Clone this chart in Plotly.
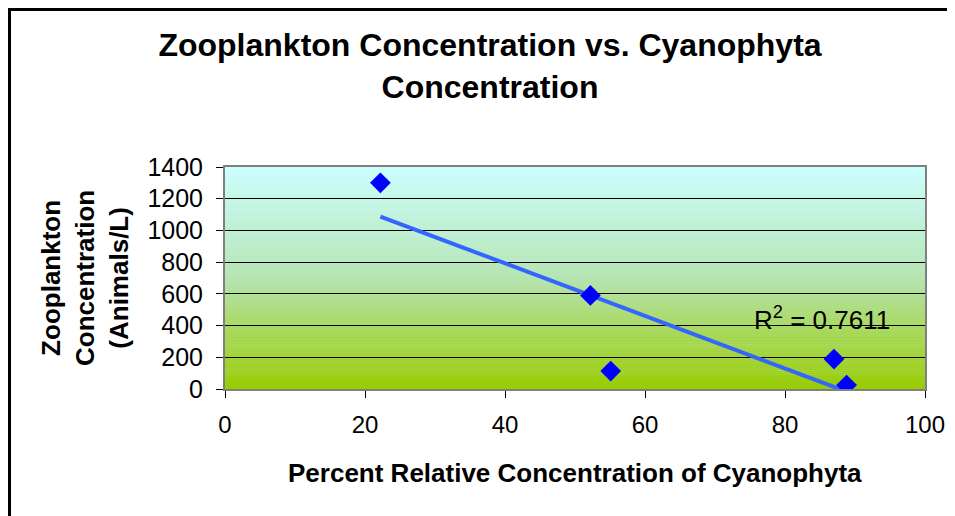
import numpy as np
import plotly.graph_objects as go

# Data
cyanophyta_pct = [22.2, 52.2, 55.1, 87.0, 88.8]
zooplankton = [1300, 590, 113, 189, 25]
x_ticks = [0, 20, 40, 60, 80, 100]
y_ticks = [0, 200, 400, 600, 800, 1000, 1200, 1400]
r2_label = "R<sup>2</sup> = 0.7611"

title_text = "Zooplankton Concentration vs. Cyanophyta<br>Concentration"
x_title = "Percent Relative Concentration of Cyanophyta"
y_title = "Zooplankton<br>Concentration<br>(Animals/L)"

# Linear trendline fitted to the data
slope, intercept = np.polyfit(cyanophyta_pct, zooplankton, 1)
tx = [min(cyanophyta_pct), max(cyanophyta_pct)]
ty = [slope * v + intercept for v in tx]

FONT = "Liberation Sans, Arial, sans-serif"

fig = go.Figure()
fig.add_trace(go.Scatter(x=tx, y=ty, mode="lines",
                         line=dict(color="#3366FF", width=4),
                         hoverinfo="skip", showlegend=False))
fig.add_trace(go.Scatter(x=cyanophyta_pct, y=zooplankton, mode="markers",
                         marker=dict(symbol="diamond", size=16, color="#0000FF",
                                     line=dict(width=0)),
                         showlegend=False))

# gradient background as thin strips
def lerp(c1, c2, t):
    return tuple(c1[i] + (c2[i] - c1[i]) * t for i in range(3))

stops = [(0.0, (153, 204, 0)), (0.5, (182, 228, 178)), (1.0, (204, 255, 255))]
def color_at(t):
    for (t0, c0), (t1, c1) in zip(stops[:-1], stops[1:]):
        if t0 <= t <= t1:
            c = lerp(c0, c1, (t - t0) / (t1 - t0))
            return "rgb(%d,%d,%d)" % tuple(round(v) for v in c)
    return "rgb(204,255,255)"

shapes = []
N = 110
for i in range(N):
    shapes.append(dict(type="rect", xref="x domain", yref="y domain",
                       x0=0, x1=1, y0=i / N, y1=(i + 1) / N + 0.002,
                       fillcolor=color_at((i + 0.5) / N), line=dict(width=0),
                       layer="below"))

# page offset (body margin) -> work in page pixel coordinates
OFF = 8
FW, FH = 955, 516
L, T = 225 - OFF, 167 - OFF
W, H = 700, 222
def px(xp):
    return (xp - OFF - L) / W
def py(yp):
    return (T + H - (yp - OFF)) / H

# outer chart border (left and top visible)
shapes.append(dict(type="line", xref="paper", yref="paper",
                   x0=px(9.5), x1=px(9.5), y0=py(8), y1=py(540),
                   line=dict(color="black", width=3)))
shapes.append(dict(type="line", xref="paper", yref="paper",
                   x0=px(8), x1=px(980), y0=py(9.5), y1=py(9.5),
                   line=dict(color="black", width=3)))

annotations = [
    dict(text="<b>" + y_title + "</b>", xref="paper", yref="paper", x=px(85), y=0.5,
         textangle=-90, showarrow=False, xanchor="center", yanchor="middle",
         font=dict(family=FONT, size=26, color="black"), align="center"),
    dict(text="<b>" + x_title + "</b>", xref="paper", yref="paper", x=0.5, y=py(473),
         showarrow=False, xanchor="center", yanchor="middle",
         font=dict(family=FONT, size=26, color="black")),
    dict(text=r2_label, xref="paper", yref="paper", x=px(822), y=py(318),
         showarrow=False, xanchor="center", yanchor="middle",
         font=dict(family=FONT, size=26, color="black")),
]

fig.update_layout(
    width=FW, height=FH,
    margin=dict(l=L, r=FW - L - W, t=T, b=FH - T - H),
    paper_bgcolor="white", plot_bgcolor="#CCFFFF",
    title=dict(text="<b>" + title_text + "</b>", x=(490 - OFF) / FW, xref="container",
               xanchor="center", y=1 - (56 - OFF) / FH, yanchor="middle", yref="container",
               font=dict(family=FONT, size=32, color="black")),
    shapes=shapes, annotations=annotations,
    xaxis=dict(range=[0, 100], tickvals=x_ticks, ticks="outside", ticklen=7,
               tickcolor="black", tickwidth=1, showgrid=False, zeroline=False,
               showline=True, linecolor="#808080", linewidth=2, mirror=True,
               tickfont=dict(family=FONT, size=24, color="black"),
               ticklabelstandoff=6),
    yaxis=dict(range=[0, 1400], tickvals=y_ticks, ticks="outside", ticklen=7,
               tickcolor="black", tickwidth=1, showgrid=True, gridcolor="black",
               gridwidth=1, zeroline=False,
               showline=True, linecolor="#808080", linewidth=2, mirror=True,
               tickfont=dict(family=FONT, size=25, color="black"),
               ticklabelstandoff=8),
    font=dict(family=FONT, color="black"),
)

fig.write_html("out.html")
